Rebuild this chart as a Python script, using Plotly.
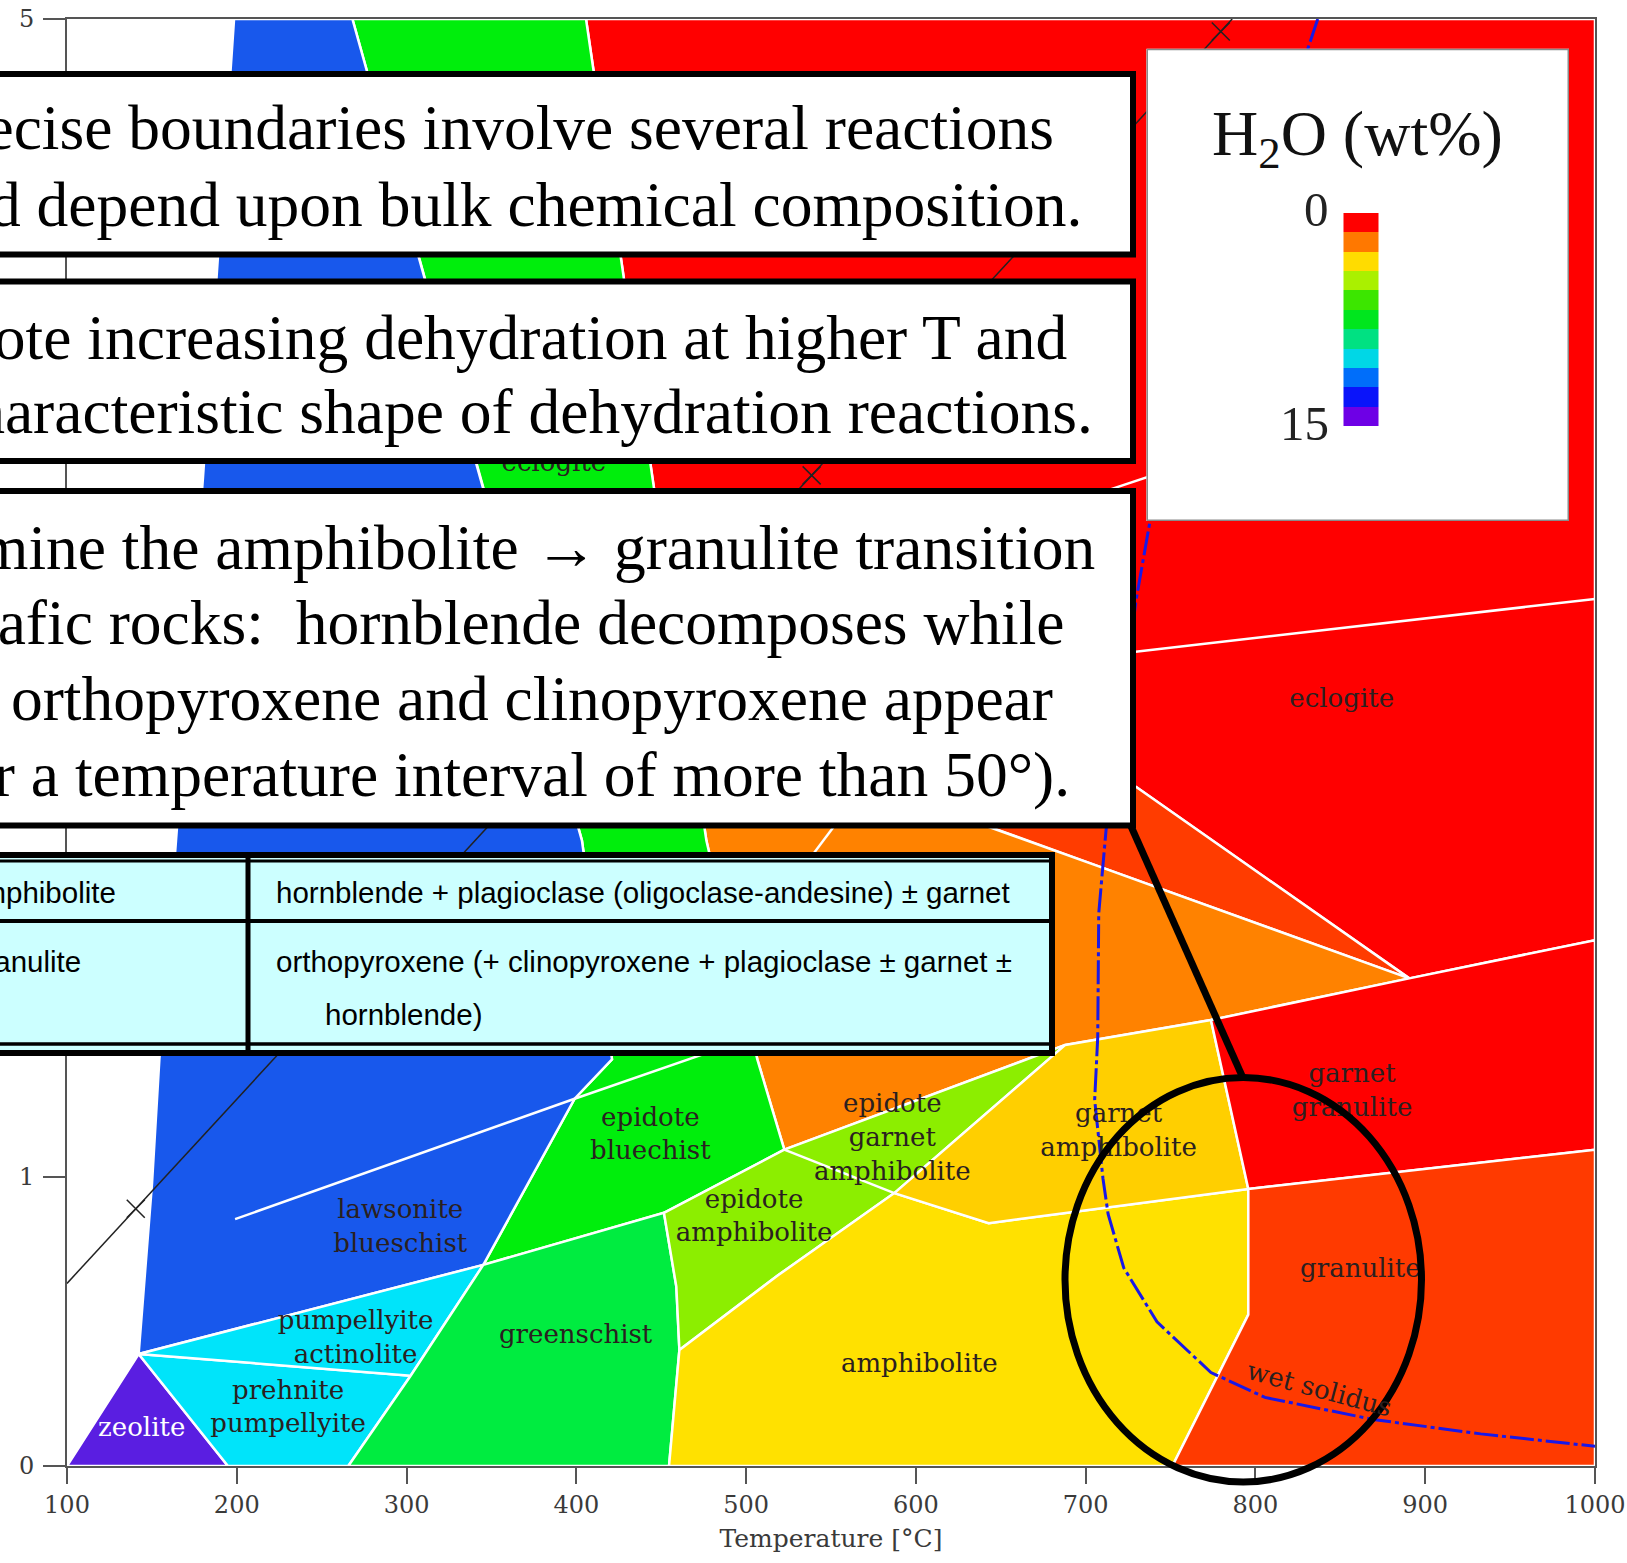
import plotly.graph_objects as go

# ---------------------------------------------------------------------------
# Metamorphic facies of MORB, coloured by bound H2O content
# coordinates: temperature (°C), pressure (GPa)
# ---------------------------------------------------------------------------
X_TICKS = [100, 200, 300, 400, 500, 600, 700, 800, 900, 1000]
Y_TICKS = [0, 1, 5]

ZEOLITE_T = [100, 142.2, 194.8]
ZEOLITE_P = [0, 0.387, 0]

PREHNITE_PUMPELLYITE_T = [142.2, 194.8, 265.7, 302.4]
PREHNITE_PUMPELLYITE_P = [0.387, 0, 0, 0.312]

PUMPELLYITE_ACTINOLITE_T = [142.2, 302.4, 345.2]
PUMPELLYITE_ACTINOLITE_P = [0.387, 0.312, 0.695]

GREENSCHIST_T = [265.7, 302.4, 345.2, 451.6, 458.9, 460.7, 454.6]
GREENSCHIST_P = [0, 0.312, 0.695, 0.875, 0.62, 0.401, 0]

BLUESCHIST_T = [198.4, 188.7, 180.1, 164.2, 154.4, 150.1, 142.2, 345.2, 399.0, 421.0, 403.3, 343.3, 309.1, 268.1]
BLUESCHIST_P = [5.0, 4.14, 3.416, 2.161, 1.405, 0.978, 0.387, 0.695, 1.269, 1.405, 2.161, 3.416, 4.14, 5.0]

EPIDOTE_BLUESCHIST_T = [268.1, 309.1, 343.3, 403.3, 421.0, 399.0, 345.2, 451.6, 522.5, 506.6, 476.6, 444.8, 427.1, 405.7]
EPIDOTE_BLUESCHIST_P = [5.0, 4.14, 3.416, 2.161, 1.405, 1.269, 0.695, 0.875, 1.093, 1.405, 2.161, 3.416, 4.14, 5.0]

EPIDOTE_AMPHIBOLITE_T = [451.6, 522.5, 688.0, 587.3, 518.8, 460.7, 458.9]
EPIDOTE_AMPHIBOLITE_P = [0.875, 1.093, 1.455, 0.943, 0.659, 0.401, 0.62]

AMPHIBOLITE_T = [454.6, 460.7, 518.8, 587.3, 642.9, 795.8, 795.8, 751.1]
AMPHIBOLITE_P = [0, 0.401, 0.659, 0.943, 0.839, 0.957, 0.523, 0]

GARNET_AMPHIBOLITE_T = [587.3, 688.0, 773.8, 795.8, 642.9]
GARNET_AMPHIBOLITE_P = [0.943, 1.455, 1.541, 0.957, 0.839]

GARNET_GRANULITE_T = [773.8, 890.6, 1000, 1000, 795.8]
GARNET_GRANULITE_P = [1.541, 1.685, 1.817, 1.093, 0.957]

GRANULITE_T = [795.8, 1000, 1000, 751.1, 795.8]
GRANULITE_P = [0.957, 1.093, 0, 0, 0.523]

AMPHIBOLE_ECLOGITE_T = [466.0, 641.7, 707.7, 890.6, 773.8, 688.0, 522.5, 506.6, 476.6]
AMPHIBOLE_ECLOGITE_P = [2.58, 2.212, 2.072, 1.685, 1.541, 1.455, 1.093, 1.405, 2.161]

ZOISITE_ECLOGITE_T = [455.3, 560.0, 729.8, 890.6, 707.7, 641.7, 466.0]
ZOISITE_ECLOGITE_P = [3.0, 2.85, 2.346, 1.685, 2.072, 2.212, 2.58]

ECLOGITE_T = [405.7, 1000, 1000, 890.6, 729.8, 560.0, 455.3, 444.8, 427.1]
ECLOGITE_P = [5.0, 5.0, 1.817, 1.685, 2.346, 2.85, 3.0, 3.416, 4.14]

# internal reaction boundaries (white)
LAWSONITE_OUT_T = [199.0, 399.0, 503.0]
LAWSONITE_OUT_P = [0.853, 1.269, 1.48]
GARNET_IN_T = [522.5, 587.3]
GARNET_IN_P = [1.093, 0.943]
ORANGE_SPLIT_T = [492.7, 571.0]
ORANGE_SPLIT_P = [1.75, 2.36]
ECLOGITE_SPLIT_T = [700, 1000]
ECLOGITE_SPLIT_P = [2.794, 2.996]
ECLOGITE_UPPER_T = [700, 830]
ECLOGITE_UPPER_P = [3.346, 3.60]

# black reaction curve with side marks
REACTION_T = [100, 786.3]
REACTION_P = [0.631, 5.0]
MARK_T = [140.5, 538.6, 779.6]
MARK_P = [0.889, 3.423, 4.957]

# water-saturated basalt solidus
WET_SOLIDUS_T = [836.7, 737.7, 729.7, 712.0, 707.7, 707.1, 705.3, 710.2, 713.2, 722.4, 742.0, 773.8, 805.6, 869.2, 932.7, 1000]
WET_SOLIDUS_P = [5.0, 3.258, 2.993, 2.197, 1.910, 1.480, 1.265, 0.993, 0.871, 0.685, 0.498, 0.323, 0.237, 0.161, 0.111, 0.068]

LABEL_TEXT = ["zeolite", "prehnite<br>pumpellyite", "pumpellyite<br>actinolite",
              "lawsonite<br>blueschist", "greenschist", "epidote<br>bluechist",
              "epidote<br>amphibolite", "epidote<br>garnet<br>amphibolite", "amphibolite",
              "garnet<br>amphibolite", "garnet<br>granulite", "granulite", "eclogite", "eclogite"]
LABEL_T = [144.0, 230.2, 270.0, 296.3, 399.6, 443.6, 504.7, 586.1, 602.0, 719.4, 856.9, 861.8, 850.8, 386.8]
LABEL_P = [0.125, 0.197, 0.437, 0.821, 0.448, 1.14, 0.857, 1.129, 0.348, 1.151, 1.290, 0.677, 2.645, 3.462]

# H2O (wt%) key: band edges, 0 at top to 15 at bottom
H2O_EDGES = [0, 1.36, 2.73, 4.09, 5.45, 6.82, 8.18, 9.55, 10.91, 12.27, 13.64, 15]
H2O_COLORS = ["#ff0000", "#ff7800", "#ffdc00", "#aaf000", "#3ce600", "#00e61e",
              "#00e182", "#00d7e6", "#006efa", "#0a14fa", "#6e00e6"]

BOX1_LINES = ["Precise boundaries involve several reactions",
              "and depend upon bulk chemical composition."]
BOX2_LINES = ["Note increasing dehydration at higher T and",
              "characteristic shape of dehydration reactions."]
BOX3_LINES = ["Determine the amphibolite \u2192 granulite transition",
              "in mafic rocks:\u00a0 hornblende decomposes while",
              " orthopyroxene and clinopyroxene appear",
              "(over a temperature interval of more than 50\u00b0)."]
TABLE_NAMES = ["amphibolite", "granulite"]
TABLE_ASSEMBLAGES = ["hornblende + plagioclase (oligoclase-andesine) \u00b1 garnet",
                     "orthopyroxene (+ clinopyroxene + plagioclase \u00b1 garnet \u00b1",
                     "hornblende)"]

# ---------------------------------------------------------------------------
W, H = 1627, 1563
PLOT_L, PLOT_R, PLOT_T, PLOT_B = 67, 1595, 19, 1466


def px(x):
    return (x - PLOT_L) / (PLOT_R - PLOT_L)


def py(y):
    return (PLOT_B - y) / (PLOT_B - PLOT_T)


SERIF = "Liberation Serif"
LABEL_FONT = "DejaVu Serif"
SANS = "Liberation Sans"

fig = go.Figure()

fields = [
    (ECLOGITE_T, ECLOGITE_P, "#ff0000"),
    (ZOISITE_ECLOGITE_T, ZOISITE_ECLOGITE_P, "#ff3c00"),
    (AMPHIBOLE_ECLOGITE_T, AMPHIBOLE_ECLOGITE_P, "#ff8200"),
    (EPIDOTE_BLUESCHIST_T, EPIDOTE_BLUESCHIST_P, "#00ee0c"),
    (BLUESCHIST_T, BLUESCHIST_P, "#1858ec"),
    (ZEOLITE_T, ZEOLITE_P, "#5a1ee1"),
    (PREHNITE_PUMPELLYITE_T, PREHNITE_PUMPELLYITE_P, "#00e4fa"),
    (PUMPELLYITE_ACTINOLITE_T, PUMPELLYITE_ACTINOLITE_P, "#00e4fa"),
    (GREENSCHIST_T, GREENSCHIST_P, "#00ec40"),
    (EPIDOTE_AMPHIBOLITE_T, EPIDOTE_AMPHIBOLITE_P, "#8cee00"),
    (AMPHIBOLITE_T, AMPHIBOLITE_P, "#ffe100"),
    (GARNET_AMPHIBOLITE_T, GARNET_AMPHIBOLITE_P, "#ffcf00"),
    (GARNET_GRANULITE_T, GARNET_GRANULITE_P, "#ff0000"),
    (GRANULITE_T, GRANULITE_P, "#ff3a00"),
]
for t, p, c in fields:
    fig.add_trace(go.Scatter(
        x=t + [t[0]], y=p + [p[0]], mode="lines", fill="toself", fillcolor=c,
        line=dict(color="white", width=2.5), hoverinfo="skip", showlegend=False))

for t, p in [(LAWSONITE_OUT_T, LAWSONITE_OUT_P), (GARNET_IN_T, GARNET_IN_P),
             (ORANGE_SPLIT_T, ORANGE_SPLIT_P), (ECLOGITE_SPLIT_T, ECLOGITE_SPLIT_P),
             (ECLOGITE_UPPER_T, ECLOGITE_UPPER_P)]:
    fig.add_trace(go.Scatter(x=t, y=p, mode="lines", line=dict(color="white", width=2.5),
                             hoverinfo="skip", showlegend=False))

fig.add_trace(go.Scatter(x=REACTION_T, y=REACTION_P, mode="lines",
                         line=dict(color="#222222", width=1.5), hoverinfo="skip", showlegend=False))
fig.add_trace(go.Scatter(x=MARK_T, y=MARK_P, mode="markers",
                         marker=dict(symbol="x-thin-open", size=18, color="#222222",
                                     line=dict(color="#222222", width=1.5)),
                         hoverinfo="skip", showlegend=False))

fig.add_trace(go.Scatter(x=WET_SOLIDUS_T, y=WET_SOLIDUS_P, mode="lines",
                         line=dict(color="#1818e8", width=3, dash="24px,4px,4px,4px"),
                         hoverinfo="skip", showlegend=False))

label_colors = ["white"] + ["#2a2020"] * (len(LABEL_TEXT) - 1)
fig.add_trace(go.Scatter(x=LABEL_T, y=LABEL_P, mode="text", text=LABEL_TEXT,
                         textposition="middle center",
                         textfont=dict(family=LABEL_FONT, size=26, color=label_colors),
                         hoverinfo="skip", showlegend=False))

# ---- H2O key (own small subplot over the upper-right corner) ----
LEG_X0, LEG_Y0, LEG_X1, LEG_Y1 = 1146.5, 48.8, 1569, 521
BAR_X0, BAR_Y0, BAR_X1, BAR_Y1 = 1343.5, 213, 1378, 426
fx0 = (BAR_X0 - LEG_X0) / (LEG_X1 - LEG_X0)
fx1 = (BAR_X1 - LEG_X0) / (LEG_X1 - LEG_X0)
xr_span = 1.0 / (fx1 - fx0)
xr0 = -fx0 * xr_span
xr1 = xr0 + xr_span
fy0 = (BAR_Y0 - LEG_Y0) / (LEG_Y1 - LEG_Y0)
fy1 = (BAR_Y1 - LEG_Y0) / (LEG_Y1 - LEG_Y0)
yr_span = (H2O_EDGES[-1] - H2O_EDGES[0]) / (fy1 - fy0)
yr_top = H2O_EDGES[0] - fy0 * yr_span
yr_bot = yr_top + yr_span

n = len(H2O_COLORS)
cscale = []
for i, c in enumerate(H2O_COLORS):
    cscale.append([i / n, c])
    cscale.append([(i + 1) / n, c])
fig.add_trace(go.Heatmap(z=[[i] for i in range(n)], x=[0, 1], y=H2O_EDGES,
                         colorscale=cscale, zmin=-0.5, zmax=n - 0.5, showscale=False,
                         xaxis="x2", yaxis="y2", hoverinfo="skip"))

shapes = []
shapes.append(dict(type="rect", xref="x2", yref="y2", x0=xr0, x1=xr1, y0=yr_bot, y1=yr_top,
                   layer="below", fillcolor="white", line=dict(color="#8a8a8a", width=3)))


def rect(x0, y0, x1, y1, fill, lw):
    return dict(type="rect", xref="paper", yref="paper", x0=px(x0), x1=px(x1),
                y0=py(y1), y1=py(y0), fillcolor=fill, line=dict(color="black", width=lw),
                layer="above")


def hline(x0, x1, y, lw):
    return dict(type="line", xref="paper", yref="paper", x0=px(x0), x1=px(x1),
                y0=py(y), y1=py(y), line=dict(color="black", width=lw), layer="above")


# text boxes
for (y0, y1) in [(74, 254.5), (281.5, 461), (491, 825.5)]:
    shapes.append(rect(-30, y0, 1133, y1, "white", 6))

# callout to the ellipse
shapes.append(dict(type="line", xref="paper", yref="paper", x0=px(1130), y0=py(824),
                   x1=px(1243), y1=py(1078), line=dict(color="black", width=7), layer="above"))
shapes.append(dict(type="circle", xref="paper", yref="paper", x0=px(1065), x1=px(1421.5),
                   y0=py(1482), y1=py(1077.5), line=dict(color="black", width=7), layer="above"))

# table
shapes.append(rect(-30, 855, 1052, 1053, "#ccffff", 6))
shapes.append(hline(-30, 1052, 861, 3))
shapes.append(hline(-30, 1052, 921, 4))
shapes.append(hline(-30, 1052, 1044, 3.5))
shapes.append(dict(type="line", xref="paper", yref="paper", x0=px(248), x1=px(248),
                   y0=py(1053), y1=py(855), line=dict(color="black", width=5), layer="above"))

annotations = []


def note(text, x, y, size, family, anchor="right", color="black"):
    annotations.append(dict(text=text, x=px(x), y=py(y), xref="paper", yref="paper",
                            xanchor=anchor, yanchor="middle", showarrow=False,
                            font=dict(family=family, size=size, color=color)))


for line, xe, yc in zip(BOX1_LINES, [1056, 1084], [128, 204.5]):
    note(line, xe, yc, 63.5, SERIF)
for line, xe, yc in zip(BOX2_LINES, [1069, 1095], [337, 412]):
    note(line, xe, yc, 63.5, SERIF)
for line, xe, yc in zip(BOX3_LINES, [1097, 1066, 1055, 1072], [547, 622, 699, 774]):
    note(line, xe, yc, 63.5, SERIF)

note(TABLE_NAMES[0], 118, 892.5, 29.5, SANS)
note(TABLE_NAMES[1], 83, 961, 29.5, SANS)
note(TABLE_ASSEMBLAGES[0], 274, 892.5, 29.5, SANS, anchor="left")
note(TABLE_ASSEMBLAGES[1], 274, 961, 29.5, SANS, anchor="left")
note(TABLE_ASSEMBLAGES[2], 323, 1014.5, 29.5, SANS, anchor="left")

note("H<sub>2</sub>O (wt%)", 1357, 138, 64, SERIF, anchor="center", color="#111111")
lab_x = xr0 + (1331 - LEG_X0) / (LEG_X1 - LEG_X0) * xr_span
for v, s in [(H2O_EDGES[0], "0"), (H2O_EDGES[-1], "15")]:
    annotations.append(dict(text=s, x=lab_x, y=v, xref="x2", yref="y2", xanchor="right",
                            yanchor="middle", yshift=3, showarrow=False,
                            font=dict(family=SERIF, size=49, color="#222222")))

annotations.append(dict(text="wet solidus", x=838.0, y=0.267, xref="x", yref="y",
                        showarrow=False, textangle=15,
                        font=dict(family=LABEL_FONT, size=26, color="#2a2020")))

axis_font = dict(family=LABEL_FONT, size=24, color="#3a3a3a")
fig.update_layout(
    width=W, height=H,
    margin=dict(l=PLOT_L, r=W - PLOT_R, t=PLOT_T, b=H - PLOT_B, autoexpand=False),
    paper_bgcolor="white", plot_bgcolor="white",
    showlegend=False,
    shapes=shapes,
    annotations=annotations,
    xaxis=dict(range=[100, 1000], tickvals=X_TICKS, ticks="outside", ticklen=16, tickwidth=1.5,
               tickcolor="#555555", showline=True, linecolor="#555555", linewidth=2, mirror=True,
               showgrid=False, zeroline=False, tickfont=axis_font,
               title=dict(text="Temperature [\u00b0C]", font=dict(family=LABEL_FONT, size=25, color="#3a3a3a"),
                          standoff=12)),
    yaxis=dict(range=[0, 5], tickvals=Y_TICKS, ticks="outside", ticklen=22, tickwidth=1.5,
               tickcolor="#555555", showline=True, linecolor="#555555", linewidth=2, mirror=True,
               showgrid=False, zeroline=False, tickfont=axis_font, ticklabelstandoff=4),
    xaxis2=dict(domain=[px(LEG_X0), px(LEG_X1)], anchor="y2", range=[xr0, xr1], visible=False),
    yaxis2=dict(domain=[py(LEG_Y1), py(LEG_Y0)], anchor="x2", range=[yr_bot, yr_top], visible=False),
)

fig.write_html("out.html")
